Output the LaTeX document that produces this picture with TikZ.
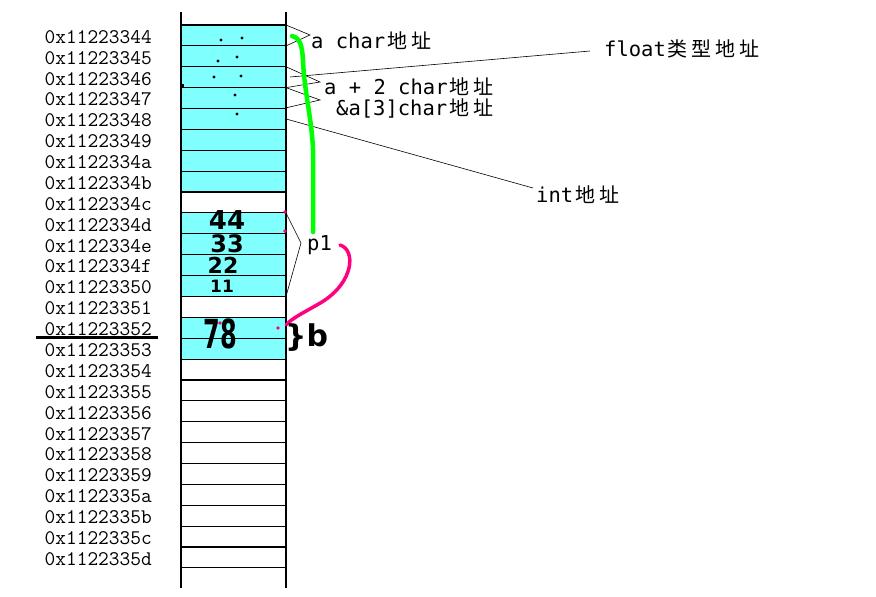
\documentclass[tikz,border=0pt]{standalone}
\usepackage{fontspec}
\usepackage{graphicx}
\newfontfamily\cjk{Noto Sans CJK SC}
\newfontfamily\latmono{DejaVu Sans Mono}
\newfontfamily\hand{DejaVu Sans}
\newcommand\zh[1]{\makebox[24pt][c]{\cjk\fontsize{20}{20}\selectfont #1}}
\definecolor{cellcyan}{RGB}{128,255,255}
\definecolor{markgreen}{RGB}{0,255,0}
\definecolor{markpink}{RGB}{255,0,128}
\tikzset{
  memcell/.style={draw, line width=1.1pt, minimum width=105pt, minimum height=20.88pt, inner sep=0pt, outer sep=0pt},
  addr/.style={anchor=east, inner sep=0pt, font=\ttfamily\fontsize{20.8}{22}\selectfont},
  note/.style={anchor=west, inner sep=0pt, font=\latmono\fontsize{20.5}{22}\selectfont},
  pointer/.style={line width=0.6pt},
  scrawl/.style={inner sep=0pt, font=\hand\bfseries\fontsize{#1}{#1}\selectfont},
}

\begin{document}
\begin{tikzpicture}[x=1pt, y=-1pt]
\useasboundingbox (0,0) rectangle (876,597);
% memory column
\foreach \hx/\fl [count=\i from 0] in {44/cellcyan,45/cellcyan,46/cellcyan,47/cellcyan,48/cellcyan,49/cellcyan,4a/cellcyan,4b/cellcyan,4c/white,4d/cellcyan,4e/cellcyan,4f/cellcyan,50/cellcyan,51/white,52/cellcyan,53/cellcyan,54/white,55/white,56/white,57/white,58/white,59/white,5a/white,5b/white,5c/white,5d/white}
{
  \node[memcell, fill=\fl] (r\i) at (233.5, {25+20.88*(\i+0.5)}) {};
  \node[addr] (a\i) at (152, {26.5+20.88*(\i+0.5)}) {0x112233\hx};
}
\draw[line width=1.1pt] (181,12) -- (181,588) (286,12) -- (286,588);

% labels
\node[note] (ach) at (311,41) {a char\zh{地}\zh{址}};
\node[note] (flt) at (604,49) {float\zh{类}\zh{型}\zh{地}\zh{址}};
\node[note] (ap2) at (324,87) {a + 2 char\zh{地}\zh{址}};
\node[note] (amp3) at (336,108) {\&a[3]char\zh{地}\zh{址}};
\node[note] (intl) at (536,195) {int\zh{地}\zh{址}};
\node[note] (p1) at (307,245) {p1};

\coordinate (achtip) at (310,35);
\coordinate (fltfoot) at (290,77);
\coordinate (flttip) at (590,51);
\coordinate (ap2tip) at (320,82);
\coordinate (amp3tip) at (320,100);
\coordinate (inttip) at (533,188);
\coordinate (p1tip) at (301,243);
\draw[pointer] (r0.north east) -- (achtip) -- (r0.south east);
\draw[pointer] (fltfoot) -- (flttip);
\draw[pointer] (r2.north east) -- (ap2tip) -- (r2.south east);
\draw[pointer] (r3.north east) -- (amp3tip) -- ([xshift=-3pt]r3.south east);
\draw[pointer] (r4.east) -- (inttip);
\draw[pointer] (r9.north east) -- (p1tip) -- (r12.south east);

% scribbles
\coordinate (gstart) at (292,36);
\coordinate (gend) at (313,232);
\coordinate (pend) at (286,325);
\draw[markgreen, line width=4.5pt, line cap=round, line join=round] (gstart) .. controls (300,38) and (302,45) .. (303,60) .. controls (304,90) and (312,120) .. (313,150) -- (gend);
\draw[markpink, line width=3.5pt, line cap=round] ([xshift=8pt]p1.east) .. controls (356,250) and (354,282) .. (322,302) .. controls (305,312) and (292,318) .. (pend);

\node[scrawl=26] (h44) at (227,220) {44};
\node[scrawl=24] (h33) at (227,244) {33};
\node[scrawl=22] (h22) at (223,265) {22};
\node[scrawl=17] (h11) at (222,286) {11};
\node[scrawl=40] (h78) at (220,334) {\scalebox{0.6}[1]{78}};
\node[scrawl=30, anchor=west] (hb) at (285,338) {\}b};

\foreach \p in {(221,40),(242,38),(218,61),(237,57),(214,77),(241,76),(235,95),(237,114)}
  \fill \p circle (1.6pt);
\fill (180,84) rectangle (184,88);
\foreach \p in {(285,212),(285,231),(220,323),(278,328)}
  \fill[markpink] \p circle (1.8pt);
\draw[line width=3pt] ([xshift=-8pt, yshift=-1.5pt]a14.south west) -- ([xshift=6pt, yshift=-1.5pt]a14.south east);
\end{tikzpicture}
\end{document}
